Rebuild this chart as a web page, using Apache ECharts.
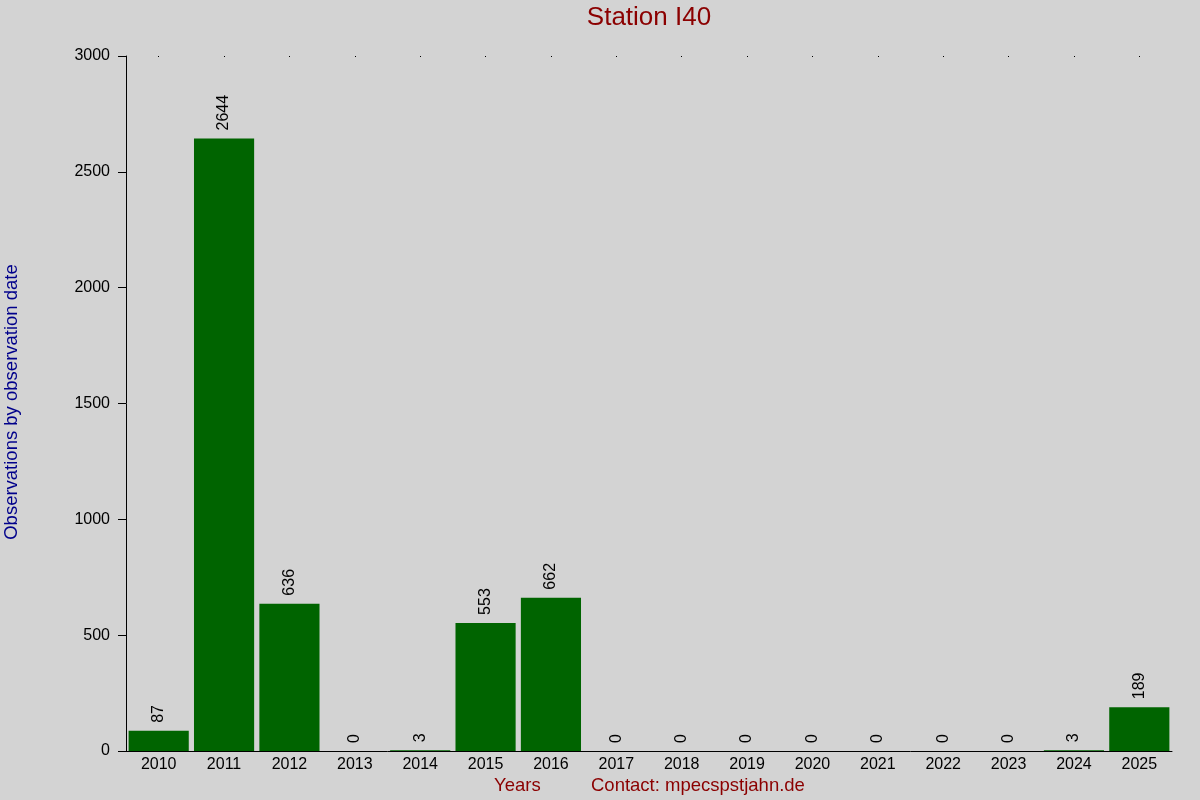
<!DOCTYPE html>
<html><head><meta charset="utf-8">
<script src="https://cdn.jsdelivr.net/npm/echarts@6/dist/echarts.min.js"></script>
<style>html,body{margin:0;padding:0;background:#d3d3d3}#c{width:1200px;height:800px}</style>
</head><body><div id="c"></div>
<script>
const years = ['2010','2011','2012','2013','2014','2015','2016','2017','2018','2019','2020','2021','2022','2023','2024','2025'];
const counts = [87,2644,636,0,3,553,662,0,0,0,0,0,0,0,3,189];
const yTicks = [0,500,1000,1500,2000,2500,3000];
const titleText = 'Station I40';
const yName = 'Observations by observation date';
const xName = 'Years';
const contact = 'Contact: mpecspstjahn.de';

const chart = echarts.init(document.getElementById('c'));
const F = 'Liberation Sans, Arial, sans-serif';
chart.setOption({
  backgroundColor:'#d3d3d3',
  animation:false,
  textStyle:{fontFamily:F},
  grid:{left:126,right:28,top:56,bottom:49},
  graphic:[
    {type:'text',x:649,y:18,style:{text:titleText,fill:'#8b0000',font:'26px '+F,align:'center',verticalAlign:'middle'}},
    {type:'text',x:494,y:786,style:{text:xName,fill:'#8b0000',font:'18.5px '+F,verticalAlign:'middle'}},
    {type:'text',x:591,y:786,style:{text:contact,fill:'#8b0000',font:'18.5px '+F,verticalAlign:'middle'}},
    {type:'text',x:12,y:402,rotation:Math.PI/2,style:{text:yName,fill:'#00008b',font:'18.5px '+F,align:'center',verticalAlign:'middle'}}
  ],
  xAxis:[{
    type:'category',data:years,
    axisLine:{lineStyle:{color:'#000',width:1}},
    axisTick:{show:false},
    axisLabel:{color:'#000',fontSize:16,margin:6,fontFamily:F}
  },{
    type:'category',data:years,position:'top',
    axisLine:{show:false},
    axisTick:{show:true,alignWithLabel:true,length:1,inside:true,lineStyle:{color:'#000'}},
    axisLabel:{show:false}
  }],
  yAxis:{
    type:'value',min:0,max:3000,interval:500,
    axisLine:{show:true,lineStyle:{color:'#000'}},
    axisTick:{show:true,length:8,lineStyle:{color:'#000'}},
    splitLine:{show:false},
    axisLabel:{color:'#000',fontSize:16,margin:16,fontFamily:F,
      formatter:v=>yTicks.includes(v)?String(v):''}
  },
  series:[{
    type:'bar',data:counts,barCategoryGap:'8%',
    itemStyle:{color:'#006400'},
    label:{show:true,position:'top',rotate:90,align:'left',verticalAlign:'middle',distance:8,color:'#000',fontSize:16,fontFamily:F}
  }]
});
</script></body></html>
